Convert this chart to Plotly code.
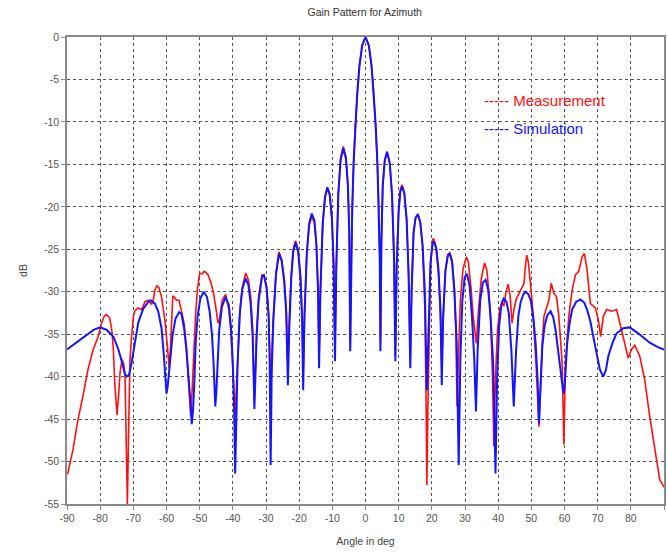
import plotly.graph_objects as go

# ---------------- data ----------------
sim_angle = [-90, -88, -86, -84, -82, -80, -78, -76, -74.5, -73.5, -72.5, -72, -71.3, -70.5, -69.5, -68.5, -67, -65.5, -64.8,
             -63.5, -62.5, -61.5, -60.8, -60.2, -60, -59.6, -59, -58.2, -57.3, -56.2, -55.5, -54.7, -54, -53.3, -52.7, -52.4,
             -52, -51.6, -51.2, -50.6, -49.8, -48.8, -47.8, -47, -46.3, -45.8, -45.3, -45, -44.6, -44.1, -43.3, -42.2, -41.2,
             -40.5, -40, -39.6, -39.3, -39.0, -38.6, -38, -37.2, -36.2, -35.3, -34.6, -34.0, -33.7, -33.5, -33.2, -32.8, -32.2,
             -31.2, -30.6, -29.8, -29.2, -28.9, -28.6, -28.3, -27.8, -27.0, -26.1, -25.3, -24.5, -23.9, -23.4, -23.0, -22.4,
             -21.8, -21.1, -20.3, -19.6, -19.1, -18.8, -18.4, -17.7, -17.0, -16.2, -15.4, -14.8, -14.3, -14.0, -13.6, -12.9,
             -12.2, -11.5, -10.8, -10.1, -9.6, -9.2, -8.8, -8.2, -7.5, -6.7, -5.9, -5.3, -4.9, -4.6, -4.3, -4.0, -3.6, -3.1,
             -2.5, -1.8, -1.0, 0, 1.0, 1.8, 2.5, 3.1, 3.6, 4.0, 4.3, 4.5, 4.8, 5.2, 5.8, 6.5, 7.3, 8.0, 8.6, 9.0, 9.4, 10.0,
             10.5, 11.0, 11.7, 12.4, 13.0, 13.5, 13.9, 14.5, 15.1, 15.8, 16.5, 17.2, 17.9, 18.5, 19.0, 19.6, 20.2, 20.7, 21.4,
             22.0, 22.6, 23.0, 23.4, 24.1, 24.8, 25.4, 26.1, 26.8, 27.5, 28.1, 28.6, 29.2, 29.9, 30.6, 31.4, 32.1, 32.8, 33.3,
             33.8, 34.6, 35.4, 36.2, 37.0, 37.7, 38.5, 39.2, 39.7, 40.3, 41.0, 41.7, 42.5, 43.2, 44.0, 44.7, 45.4, 46.1, 46.8,
             47.6, 48.3, 49.1, 49.8, 50.6, 51.3, 51.9, 52.3, 52.8, 53.3, 54.0, 54.8, 55.8, 56.6, 57.3, 58.2, 58.8, 59.5, 59.8,
             60.3, 60.8, 61.5, 62.3, 63.5, 64.8, 66.0, 66.8, 67.8, 68.8, 69.8, 70.7, 71.7, 72.5, 73.2, 74.5, 75.7, 77.7, 79.7,
             82.2, 85.7, 88, 90]
sim_db = [-36.8, -36.2, -35.6, -35.0, -34.5, -34.2, -34.5, -35.3, -36.8, -38.2, -39.7, -40.0, -39.8, -38.3, -35.8, -33.6, -32.0,
          -31.2, -31.0, -31.4, -32.3, -34.3, -37.5, -41.5, -42.0, -41.0, -38.8, -35.2, -33.2, -32.4, -32.6, -34.3, -36.8, -40.0,
          -43.5, -45.6, -44.0, -40.5, -36.0, -32.8, -30.8, -30.0, -30.6, -32.3, -35.0, -38.5, -43.5, -42.0, -38.0, -34.5, -31.8,
          -30.6, -31.6, -34.5, -38.5, -44.0, -51.4, -45.0, -39.0, -33.0, -29.8, -28.4, -29.2, -31.5, -35.5, -40.0, -43.8, -40.0,
          -35.0, -31.0, -28.2, -28.1, -29.6, -33.0, -38.0, -50.4, -40.0, -33.5, -28.0, -25.5, -26.3, -28.8, -32.5, -41.0, -34.5,
          -28.5, -25.3, -24.2, -25.3, -28.5, -33.5, -41.6, -33.0, -25.5, -22.0, -20.8, -21.6, -24.5, -30.0, -39.0, -30.0, -22.0,
          -18.8, -17.7, -18.5, -21.5, -27.0, -38.2, -27.0, -18.5, -14.5, -13.1, -14.3, -17.5, -23.0, -37.0, -26.0, -20.0, -15.0,
          -10.5, -6.6, -3.3, -1.0, 0, -1.0, -3.3, -6.6, -10.5, -15.0, -20.0, -26.0, -37.0, -24.0, -17.5, -14.5, -13.5, -14.8,
          -18.5, -26.0, -38.2, -27.0, -20.5, -18.2, -17.6, -18.4, -21.5, -28.0, -39.0, -30.0, -23.0, -21.3, -20.9, -21.8, -24.5,
          -30.0, -41.6, -33.0, -26.5, -24.4, -24.1, -25.0, -27.4, -32.0, -41.0, -33.0, -27.5, -25.8, -25.5, -26.5, -30.0, -36.0,
          -50.4, -38.0, -31.0, -28.3, -27.9, -29.3, -32.9, -38.0, -44.1, -37.0, -31.0, -28.9, -28.6, -29.8, -32.9, -38.5, -51.4,
          -40.0, -34.0, -31.4, -30.8, -31.2, -32.5, -37.0, -43.5, -37.0, -32.8, -31.2, -30.3, -30.0, -30.3, -31.0, -33.0, -36.1,
          -40.5, -45.5, -40.0, -36.5, -34.0, -32.8, -32.3, -33.0, -34.5, -37.0, -39.2, -41.5, -42.0, -39.5, -36.1, -33.8, -32.1,
          -31.2, -30.9, -31.3, -32.1, -33.5, -35.3, -37.5, -39.2, -40.0, -39.2, -37.6, -36.0, -34.9, -34.3, -34.2, -34.9, -36.0,
          -36.5, -36.8]

meas_angle = [-90, -89.7, -88.2, -86.7, -85.2, -83.7, -82.1, -80.6, -79.6, -78.8, -78.1, -77.1, -76.4, -76.0, -75.6, -74.9, -74.4,
              -74.0, -73.4, -72.9, -72.5, -72.2, -71.8, -71.4, -71.0, -70.6, -70.0, -69.6, -68.6, -67.5, -66.5, -65.5, -64.5,
              -63.9, -63.5, -62.9, -62.3, -61.5, -60.9, -60.5, -59.8, -59.2, -58.8, -58.5, -58.1, -57.5, -57.0, -56.2, -55.5,
              -54.7, -54.0, -53.2, -52.7, -52.2, -51.7, -51.2, -50.7, -50.0, -49.2, -48.7, -48.2, -47.5, -46.7, -45.9, -45.2,
              -44.5, -44.2, -43.7, -43.2, -42.2, -41.2, -40.6, -40.2, -39.7, -39.3, -38.9, -38.3, -37.7, -37.1, -36.1, -35.3,
              -34.6, -34.0, -33.6, -33.2, -32.8, -32.2, -31.2, -30.6, -29.8, -29.2, -28.8, -28.6, -28.3, -27.8, -27.0, -26.1,
              -25.3, -24.5, -23.9, -23.4, -23.0, -22.4, -21.8, -21.1, -20.3, -19.6, -19.1, -18.8, -18.4, -17.7, -17.0, -16.2,
              -15.4, -14.8, -14.3, -14.0, -13.6, -12.9, -12.2, -11.5, -10.8, -10.1, -9.6, -9.2, -8.8, -8.2, -7.5, -6.7, -5.9,
              -5.3, -4.9, -4.6, -4.3, -4.0, -3.6, -3.1, -2.5, -1.8, -1.0, 0, 1.0, 1.8, 2.5, 3.1, 3.6, 4.0, 4.3, 4.5, 4.8, 5.2,
              5.8, 6.5, 7.3, 8.0, 8.6, 9.0, 9.4, 10.0, 10.5, 11.0, 11.7, 12.4, 13.0, 13.5, 13.9, 14.5, 15.1, 15.8, 16.5, 17.2,
              17.9, 18.3, 18.5, 18.8, 19.2, 19.6, 20.2, 20.5, 21.2, 22.0, 22.6, 23.0, 23.5, 24.1, 24.8, 25.4, 26.1, 26.8, 27.2,
              27.6, 28.0, 28.6, 29.4, 30.4, 31.0, 31.8, 32.5, 33.4, 34.1, 34.9, 35.9, 36.6, 37.3, 37.8, 38.3, 38.7, 39.2, 39.8,
              40.5, 41.2, 41.7, 42.3, 43.0, 43.6, 44.2, 44.8, 45.5, 46.3, 47.2, 47.8, 48.2, 48.6, 49.1, 49.6, 50.2, 50.8, 51.5,
              52.3, 52.8, 53.3, 53.8, 54.5, 55.3, 56.0, 56.8, 57.6, 58.3, 59.3, 59.8, 60.3, 61.3, 62.3, 63.3, 64.3, 65.3, 66.0,
              66.8, 67.8, 69.3, 70.2, 70.9, 71.7, 72.7, 74.2, 75.7, 77.2, 79.2, 80.2, 81.2, 82.7, 84.2, 85.7, 87.2, 88.7, 90]
meas_db = [-51.5, -51.3, -48.6, -45.1, -42.3, -39.2, -36.8, -35.3, -33.7, -32.9, -32.7, -33.1, -34.8, -37.0, -40.8, -44.5, -42.0,
           -39.5, -38.0, -38.5, -40.0, -46.0, -55.0, -46.0, -38.0, -35.6, -33.0, -32.3, -31.9, -32.1, -31.2, -31.0, -31.5, -30.8,
           -29.8, -29.3, -29.5, -30.6, -32.0, -33.3, -36.1, -39.0, -36.5, -33.5, -30.5, -30.7, -31.0, -31.0, -32.3, -33.7, -36.5,
           -41.5, -44.7, -41.0, -36.1, -32.5, -29.8, -27.8, -27.9, -27.6, -27.7, -28.0, -28.8, -30.0, -31.7, -33.6, -33.7, -32.5,
           -31.0, -30.3, -32.1, -34.5, -37.6, -41.0, -44.5, -41.0, -35.3, -31.5, -29.4, -27.8, -28.6, -30.6, -34.5, -43.0, -39.0,
           -34.5, -30.5, -28.0, -28.0, -29.4, -32.5, -37.0, -41.0, -38.0, -33.0, -27.8, -25.3, -26.2, -28.5, -32.0, -38.5, -33.5,
           -28.0, -25.0, -24.0, -25.0, -28.0, -33.0, -40.0, -32.5, -25.5, -22.2, -21.2, -21.9, -24.5, -30.0, -38.0, -30.0, -22.0,
           -18.9, -17.9, -18.6, -21.5, -27.0, -37.0, -27.0, -18.3, -14.2, -12.9, -14.1, -17.5, -23.0, -36.0, -26.0, -20.0, -15.0,
           -10.5, -6.6, -3.3, -1.0, 0, -1.0, -3.3, -6.6, -10.5, -15.0, -20.0, -26.0, -36.0, -24.0, -17.5, -14.6, -13.6, -14.9,
           -18.6, -26.0, -37.5, -27.0, -20.3, -18.0, -17.4, -18.3, -21.5, -28.0, -38.0, -30.0, -23.0, -21.3, -20.8, -21.8, -24.5,
           -32.0, -44.0, -52.8, -44.0, -33.0, -27.0, -24.0, -23.7, -24.7, -27.8, -33.0, -38.8, -32.5, -27.5, -25.6, -25.4, -26.3,
           -29.5, -34.0, -43.5, -38.0, -31.0, -27.3, -25.9, -26.5, -29.5, -33.0, -36.1, -32.0, -28.5, -26.6, -27.5, -30.5, -34.0,
           -40.0, -48.2, -40.0, -34.5, -32.0, -31.3, -31.7, -30.2, -29.1, -30.5, -33.7, -32.0, -30.8, -30.2, -29.5, -29.0, -27.0,
           -25.7, -26.5, -28.2, -31.0, -34.5, -39.0, -45.9, -40.0, -36.0, -32.9, -32.0, -31.0, -29.0, -30.2, -30.6, -32.9, -38.4,
           -48.0, -38.4, -32.9, -29.8, -28.0, -27.6, -25.9, -25.5, -27.4, -31.4, -31.9, -33.3, -35.3, -32.9, -32.1, -32.3, -32.1,
           -34.5, -37.8, -36.8, -36.3, -37.6, -40.4, -44.7, -48.6, -52.1, -53.0]

x_ticks = list(range(-90, 91, 10))
y_ticks = list(range(-55, 1, 5))
chart_title = "Gain Pattern for Azimuth"
x_title = "Angle in deg"
y_title = "dB"
legend_labels = ["----- Measurement", "----- Simulation"]

# ---------------- figure ----------------
fig = go.Figure()
fig.add_trace(go.Scatter(x=meas_angle, y=meas_db, mode="lines", name="Measurement",
                         line=dict(color="#ff1010", width=1.6), showlegend=False))
fig.add_trace(go.Scatter(x=sim_angle, y=sim_db, mode="lines", name="Simulation",
                         line=dict(color="#1414ff", width=2), showlegend=False))

axis_common = dict(
    showgrid=True, gridcolor="#555555", griddash="dot", gridwidth=1,
    showline=True, linecolor="#8a8a8a", linewidth=1.5, mirror=True,
    ticks="outside", ticklen=4, tickcolor="#8a8a8a",
    tickfont=dict(family="Liberation Sans, Arial", size=10.5, color="#555555"),
    zeroline=False, automargin=False,
)

fig.update_xaxes(range=[-90, 90], tickvals=x_ticks, ticktext=[str(v) for v in x_ticks],
                 title=dict(text=x_title, font=dict(family="Liberation Sans, Arial", size=10.5, color="#444444"),
                            standoff=14),
                 **axis_common)
fig.update_yaxes(range=[-55, 0], tickvals=y_ticks, ticktext=[str(v) for v in y_ticks],
                 title=dict(text=y_title, font=dict(family="Liberation Sans, Arial", size=10.5, color="#444444"),
                            standoff=14),
                 **axis_common)

legend_colors = ["#ff1010", "#1414ff"]
legend_y = [0.865, 0.805]
for lbl, col, yy in zip(legend_labels, legend_colors, legend_y):
    fig.add_annotation(text=lbl, x=0.695, y=yy, xref="paper", yref="paper",
                       xanchor="left", yanchor="middle", showarrow=False,
                       font=dict(family="Liberation Sans, Arial", size=15, color=col))

fig.update_layout(
    width=668, height=552,
    margin=dict(l=67, r=4, t=37, b=48),
    paper_bgcolor="white", plot_bgcolor="white",
    title=dict(text=chart_title, x=0.546, xanchor="center", y=0.978, yanchor="middle",
               font=dict(family="Liberation Sans, Arial", size=10.5, color="#333333")),
)

fig.write_html("out.html", config={"displayModeBar": False},
               post_script="document.body.style.margin='0';document.body.style.overflow='hidden';")
